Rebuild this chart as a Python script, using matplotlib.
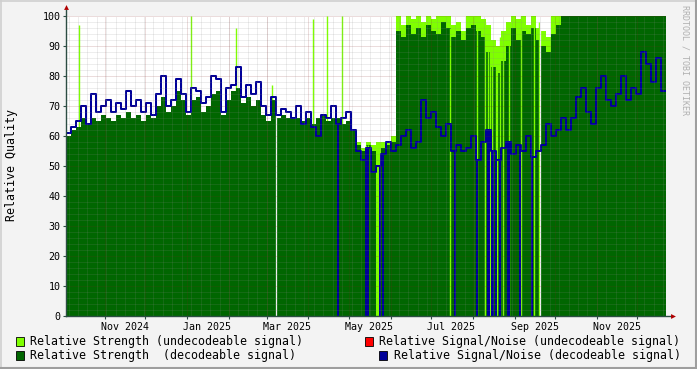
import numpy as np
import pandas as pd
import matplotlib
matplotlib.use("Agg")
import matplotlib.pyplot as plt
import matplotlib.dates as mdates
from matplotlib.lines import Line2D
from matplotlib.patches import Rectangle

plt.rcParams["font.family"] = ["DejaVu Sans Mono"]

# time span of the graph
start = pd.Timestamp("2024-10-03 02:00")
end = pd.Timestamp("2025-12-22 06:00")

# relative strength, decodeable signal (one value per step)
strength = [60, 62, 63, 66, 64, 66, 65, 67, 66, 65,
            67, 66, 68, 66, 67, 65, 67, 66, 70, 73,
            68, 70, 75, 72, 67, 72, 73, 68, 70, 74,
            75, 67, 72, 75, 76, 71, 73, 70, 72, 67,
            65, 72, 66, 67, 66, 66, 66, 65, 66, 64,
            66, 67, 65, 66, 66, 64, 65, 62, 57, 55,
            57, 55, 0, 56, 57, 58, 95, 93, 97, 94,
            96, 93, 97, 95, 94, 98, 96, 93, 95, 92,
            96, 97, 95, 93, 88, 83, 81, 85, 90, 96,
            92, 95, 94, 96, 92, 90, 88, 94, 97, 100,
            100, 100, 100, 100, 100, 100, 100, 100, 100, 100,
            100, 100, 100, 100, 100, 100, 100, 100, 100, 100]

# relative strength, undecodeable signal (last steps of the graph)
strength_undec = [58, 56, 58, 57, 58, 58, 58, 60, 100, 97,
                  100, 99, 100, 98, 100, 99, 100, 100, 100, 97,
                  98, 95, 100, 100, 100, 99, 97, 92, 90, 95,
                  98, 100, 99, 100, 97, 100, 96, 95, 93, 100,
                  100, 100, 100, 100, 100, 100, 100, 100, 100, 100,
                  100, 100, 100, 100, 100, 100, 100, 100, 100, 100,
                  100, 100]

# relative signal/noise, decodeable signal
snr = [61, 63, 65, 70, 64, 74, 68, 70, 72, 68,
       71, 69, 75, 70, 72, 68, 71, 67, 74, 80,
       70, 72, 79, 74, 68, 76, 75, 71, 73, 80,
       79, 68, 76, 77, 83, 73, 77, 74, 78, 70,
       67, 73, 67, 69, 68, 66, 70, 64, 68, 63,
       60, 67, 66, 70, 64, 66, 68, 62, 55, 52,
       56, 48, 50, 54, 58, 55, 57, 60, 62, 56,
       58, 72, 66, 68, 63, 60, 64, 55, 57, 55,
       56, 60, 52, 58, 62, 55, 52, 56, 58, 54,
       57, 55, 60, 53, 55, 57, 64, 60, 62, 66,
       62, 66, 73, 76, 68, 64, 76, 80, 72, 70,
       74, 80, 72, 76, 74, 88, 84, 78, 86, 75]

# short peaks of undecodeable strength
peak_dates = ["2024-10-13", "2025-01-04", "2025-02-06", "2025-03-05",
              "2025-04-04", "2025-04-15", "2025-04-26"]
peak_values = [97, 100, 96, 77, 99, 100, 100]

# steps with only undecodeable signal
undec_dates = ["2025-05-14", "2025-05-15", "2025-07-15", "2025-08-04",
               "2025-08-10", "2025-08-12", "2025-08-14", "2025-08-15",
               "2025-08-18", "2025-08-19", "2025-08-21", "2025-08-23",
               "2025-08-28", "2025-09-06", "2025-09-15", "2025-09-19"]
undec_values = [57, 57, 96, 100, 98, 97, 92, 91, 90, 90, 93, 95, 98, 100, 100, 98]

# steps where signal/noise fell to zero
snr_drop_dates = ["2025-04-23", "2025-05-14", "2025-05-15", "2025-05-24",
                  "2025-05-26", "2025-07-19", "2025-08-04", "2025-08-12",
                  "2025-08-13", "2025-08-15", "2025-08-16", "2025-08-18",
                  "2025-08-21", "2025-08-27", "2025-08-28", "2025-09-05",
                  "2025-09-14"]

# no data at all
nodata_dates = ["2025-03-08", "2025-09-20"]

tick_dates = ["2024-11-16", "2025-01-16", "2025-03-16", "2025-05-16",
              "2025-07-16", "2025-09-16", "2025-11-16"]
tick_labels = ["Nov 2024", "Jan 2025", "Mar 2025", "May 2025",
               "Jul 2025", "Sep 2025", "Nov 2025"]

LIME = "#7FFF00"
GREEN = "#006600"
RED = "#FF0000"
BLUE = "#000099"
AXIS = "#2C4D43"

def num(d):
    return mdates.date2num(pd.to_datetime(d))

def steps(v):
    return np.append(v, v[-1])

W, H = 697, 369
fig = plt.figure(figsize=(W / 100, H / 100), dpi=100, facecolor="#F3F3F3")
ax = fig.add_axes([66 / W, 1 - 316 / H, 600 / W, 300 / H])
ax.set_facecolor("white")

edges = num(pd.date_range(start, end, periods=len(strength) + 1))
t_undec = edges[-len(strength_undec) - 1:]

ax.fill_between(t_undec, steps(strength_undec), step="post", color=LIME, lw=0, zorder=2)
ax.vlines(num(peak_dates), 0, peak_values, color=LIME, lw=1.0, zorder=1.5)
ax.fill_between(edges, steps(strength), step="post", color=GREEN, lw=0, zorder=3)
ax.vlines(num(undec_dates), 0, undec_values, color=LIME, lw=1.0, zorder=4)
ax.vlines(num(nodata_dates), 0, 100, color="white", lw=0.9, zorder=4)

ax.step(edges, steps(snr), where="post", color=BLUE, lw=1.45, zorder=6)
drops = num(snr_drop_dates)
idx = np.searchsorted(edges, drops, side="right") - 1
ax.vlines(drops, 0, np.array(snr)[idx], color=BLUE, lw=1.45, zorder=6)

ax.set_xlim(num(start), num(end))
ax.set_ylim(0, 100)

# grid, drawn over the data like rrdtool does
minor_c = (0.55, 0.55, 0.55, 0.3)
major_c = (0.51, 0.12, 0.12, 0.3)
dots = (0, (1, 1))
for y in range(2, 101, 2):
    c = major_c if y % 10 == 0 else minor_c
    ax.axhline(y, color=c, lw=0.72, ls=dots, zorder=7)
weeks = mdates.WeekdayLocator(byweekday=mdates.SA).tick_values(start, end)
for x in weeks:
    ax.axvline(x, color=minor_c, lw=0.72, ls=dots, zorder=7)
months = mdates.MonthLocator().tick_values(start, end)
months = [m for m in months if num(start) < m < num(end)]
for x in months:
    ax.axvline(x, color=major_c, lw=0.72, ls=dots, zorder=7)

for s in ax.spines.values():
    s.set_visible(False)
ax.plot([0, 0], [0, 1.02], color=AXIS, lw=1, transform=ax.transAxes, clip_on=False, zorder=8)
ax.plot([0, 1.01], [0, 0], color=AXIS, lw=1, transform=ax.transAxes, clip_on=False, zorder=8)
ax.plot(0, 1.03, marker="^", ms=3.5, color="#B00000", mew=0, transform=ax.transAxes, clip_on=False, zorder=9)
ax.plot(1.012, 0, marker=">", ms=3.5, color="#B00000", mew=0, transform=ax.transAxes, clip_on=False, zorder=9)

ax.set_yticks(range(0, 101, 10))
ax.tick_params(axis="y", length=2.5, width=0.8, color=AXIS, pad=1.5, labelsize=7.2)
ax.set_xticks(num(tick_dates))
ax.set_xticklabels(tick_labels)
ax.set_xticks(months, minor=True)
ax.tick_params(axis="x", which="major", length=0, pad=4.5, labelsize=7.2)
ax.tick_params(axis="x", which="minor", length=2, width=0.8, color=AXIS)

fig.text(12 / W, 1 - 165 / H, "Relative Quality", rotation=90, fontsize=8.4,
         ha="center", va="center")
fig.text(685 / W, 1 - 60 / H, "RRDTOOL / TOBI OETIKER", rotation=270, fontsize=6,
         color="#B0B0B0", ha="center", va="center")

legend = [(15.5, 341, LIME, "Relative Strength (undecodeable signal)"),
          (15.5, 355, GREEN, "Relative Strength  (decodeable signal)"),
          (364.5, 341, RED, "Relative Signal/Noise (undecodeable signal)"),
          (379, 355, BLUE, "Relative Signal/Noise (decodeable signal)")]
for x, y, c, label in legend:
    fig.add_artist(Rectangle((x / W, 1 - (y + 4.5) / H), 8 / W, 8.5 / H,
                             facecolor=c, edgecolor="black", lw=0.6,
                             transform=fig.transFigure))
    fig.text((x + 14.5) / W, 1 - y / H, label, fontsize=8.37, ha="left", va="center")

# frame shading
fig.add_artist(Line2D([0, 1], [1 - 0.5 / H, 1 - 0.5 / H], color="#CFCFCF", lw=1.2))
fig.add_artist(Line2D([0.5 / W, 0.5 / W], [0, 1], color="#CFCFCF", lw=1.2))
fig.add_artist(Line2D([0, 1], [1.5 / H, 1.5 / H], color="#9E9E9E", lw=1.5))
fig.add_artist(Line2D([1 - 1.5 / W, 1 - 1.5 / W], [0, 1], color="#9E9E9E", lw=1.5))

fig.savefig("out.png", dpi=100, facecolor=fig.get_facecolor())
